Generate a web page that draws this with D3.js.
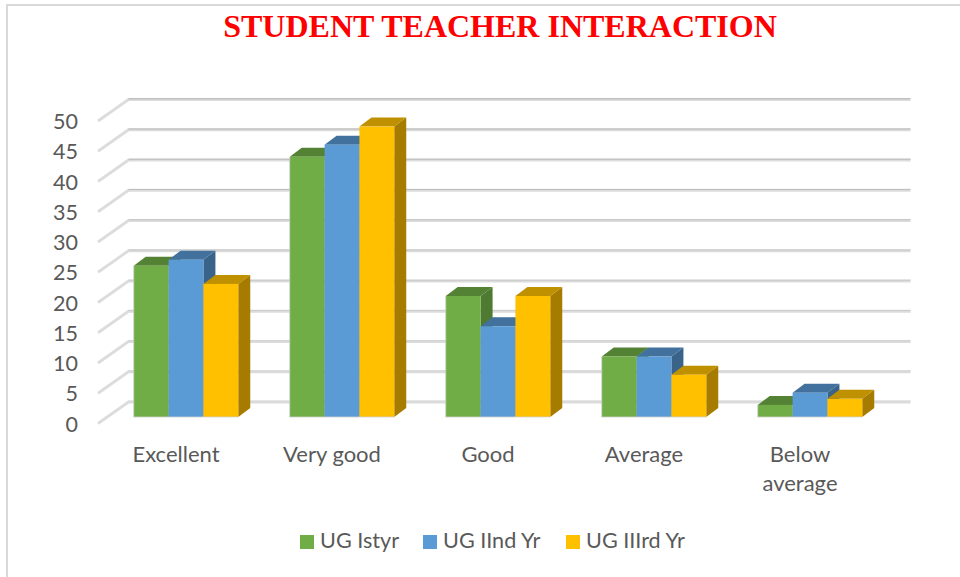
<!DOCTYPE html>
<html>
<head>
<meta charset="utf-8">
<script src="https://cdn.jsdelivr.net/npm/d3@7"></script>
<style>
  html, body { margin: 0; padding: 0; background: #fff; }
  svg { display: block; }
  text { font-family: Lato, "Open Sans", sans-serif; fill: #595959; }
</style>
</head>
<body>
<div id="my_dataviz"></div>
<script>
const categories = ["Excellent", "Very good", "Good", "Average", "Below average"];
const seriesNames = ["UG Istyr", "UG IInd Yr", "UG IIIrd Yr"];
const istYr = [25, 43, 20, 10, 2];
const iindYr = [26, 45, 15, 10, 4];
const iiirdYr = [22, 48, 20, 7, 3];
const yTicks = [0, 5, 10, 15, 20, 25, 30, 35, 40, 45, 50];
const colors = ["#70ad47", "#5b9bd5", "#ffc000"];
const topColors = ["#548235", "#41719c", "#bf9000"];
const sideColors = ["#4f7a32", "#3a6389", "#a67c00"];

const width = 960, height = 577;
const series = [istYr, iindYr, iiirdYr];

const svg = d3.select("#my_dataviz")
  .append("svg")
  .attr("width", width)
  .attr("height", height);

// chart frame
svg.append("rect")
  .attr("x", 7).attr("y", 5)
  .attr("width", 960).attr("height", 580)
  .attr("fill", "#fff")
  .attr("stroke", "#d9d9d9")
  .attr("stroke-width", 2);

svg.append("text")
  .attr("x", 500).attr("y", 37)
  .attr("text-anchor", "middle")
  .style("font-family", "'Liberation Serif', serif")
  .style("font-size", "32px")
  .style("font-weight", "bold")
  .style("fill", "#ff0000")
  .text("STUDENT TEACHER INTERACTION");

// front edge of the floor
const x = d3.scaleBand().domain(categories).range([98, 878]);
const y = d3.scaleLinear().domain([0, 50]).range([423.5, 121]);

// depth of the wall and of the bars
const wallDx = 30.5, wallDy = -21.5;
const barDx = 12, barDy = -9;
const barShiftX = 10, barShiftY = -6.5;
const barW = 104.5 / 3;

// walls, the upper lines come out a bit darker in the original
const gridEdge = d3.scaleLinear().domain([0, 50]).range(["#d8d8d8", "#b4b4b4"]);
const grid = svg.append("g");
yTicks.forEach(function (t) {
  const pts = [[x.range()[0], y(t)], [x.range()[0] + wallDx, y(t) + wallDy], [910.5, y(t) + wallDy]];
  grid.append("path")
    .attr("d", d3.line()(pts))
    .attr("fill", "none")
    .attr("stroke", "#dcdcdc")
    .attr("stroke-width", 2.8);
  grid.append("line")
    .attr("x1", x.range()[0] + wallDx).attr("x2", 910.5)
    .attr("y1", y(t) + wallDy - 0.8).attr("y2", y(t) + wallDy - 0.8)
    .attr("stroke", gridEdge(t))
    .attr("stroke-width", 1.1);
});

// y labels
svg.append("g").selectAll("text")
  .data(yTicks)
  .enter()
  .append("text")
  .attr("x", 78)
  .attr("y", function (d) { return y(d) + 8; })
  .attr("text-anchor", "end")
  .style("font-size", "21.5px")
  .text(function (d) { return d; });

// bars, side and top faces first so that the next bar covers them
const bars = svg.append("g");
categories.forEach(function (c, i) {
  const left = x(c) + x.bandwidth() / 2 + barShiftX - barW * 1.5;
  const base = y(0) + barShiftY;
  series.forEach(function (s, k) {
    const x0 = left + k * barW, x1 = x0 + barW;
    const top = base - (y(0) - y(s[i]));
    bars.append("path")
      .attr("d", d3.line()([[x1, base], [x1 + barDx, base + barDy], [x1 + barDx, top + barDy], [x1, top]]) + "Z")
      .attr("fill", sideColors[k]);
    bars.append("path")
      .attr("d", d3.line()([[x0, top], [x0 + barDx, top + barDy], [x1 + barDx, top + barDy], [x1, top]]) + "Z")
      .attr("fill", topColors[k]);
    bars.append("rect")
      .attr("x", x0).attr("y", top)
      .attr("width", barW).attr("height", base - top)
      .attr("fill", colors[k]);
  });
  // thin light edge on the left and under the group
  const firstTop = base - (y(0) - y(series[0][i]));
  bars.append("path")
    .attr("d", d3.line()([[left, firstTop], [left, base], [left + barW * 3, base]]))
    .attr("fill", "none")
    .attr("stroke", "#cfcfcf")
    .attr("stroke-width", 0.8);
});

// category labels
const catLabels = svg.append("g");
categories.forEach(function (c) {
  const cx = x(c) + x.bandwidth() / 2;
  const lines = c === "Below average" ? ["Below", "average"] : [c];
  lines.forEach(function (l, j) {
    catLabels.append("text")
      .attr("x", cx)
      .attr("y", 462 + j * 29)
      .attr("text-anchor", "middle")
      .style("font-size", "22px")
      .text(l);
  });
});

// legend
const legendX = [300, 423, 566];
const legend = svg.append("g");
seriesNames.forEach(function (n, k) {
  legend.append("rect")
    .attr("x", legendX[k]).attr("y", 535)
    .attr("width", 14).attr("height", 14)
    .attr("fill", colors[k]);
  legend.append("text")
    .attr("x", legendX[k] + 20).attr("y", 548)
    .style("font-size", "21.6px")
    .text(n);
});
</script>
</body>
</html>
